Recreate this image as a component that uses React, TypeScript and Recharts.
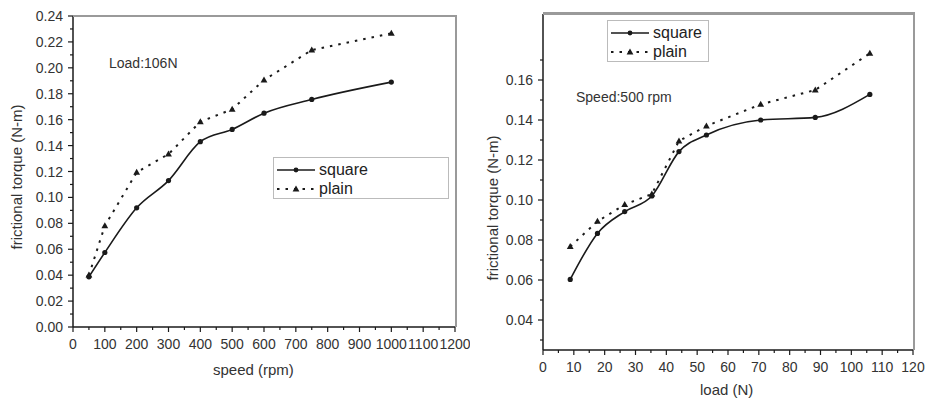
import React from "react";
import { LineChart, Line, XAxis, YAxis, Legend } from "recharts";

// left panel: torque vs speed (load 106 N)
const SPEED = [50, 100, 200, 300, 400, 500, 600, 750, 1000];
const SPEED_SQUARE = [0.0387, 0.0575, 0.092, 0.113, 0.143, 0.1525, 0.165, 0.1756, 0.189];
const SPEED_PLAIN = [0.04, 0.0781, 0.1193, 0.1334, 0.1584, 0.168, 0.1906, 0.2137, 0.2266];

// right panel: torque vs load (speed 500 rpm)
const LOAD = [8.83, 17.66, 26.5, 35.3, 44.1, 53, 70.6, 88.3, 106];
const LOAD_SQUARE = [0.0603, 0.0833, 0.0942, 0.102, 0.1242, 0.1325, 0.14, 0.1413, 0.1528];
const LOAD_PLAIN = [0.0767, 0.0893, 0.0977, 0.103, 0.1295, 0.137, 0.1478, 0.155, 0.1733];

const SPEED_TICKS = [0, 50, 100, 150, 200, 250, 300, 350, 400, 450, 500, 550, 600, 650, 700, 750, 800, 850, 900, 950, 1000, 1050, 1100, 1150, 1200];
const TORQUE_TICKS_A = [0, 0.01, 0.02, 0.03, 0.04, 0.05, 0.06, 0.07, 0.08, 0.09, 0.1, 0.11, 0.12, 0.13, 0.14, 0.15, 0.16, 0.17, 0.18, 0.19, 0.2, 0.21, 0.22, 0.23, 0.24];
const LOAD_TICKS = [0, 5, 10, 15, 20, 25, 30, 35, 40, 45, 50, 55, 60, 65, 70, 75, 80, 85, 90, 95, 100, 105, 110, 115, 120];
const TORQUE_TICKS_B = [0.03, 0.04, 0.05, 0.06, 0.07, 0.08, 0.09, 0.1, 0.11, 0.12, 0.13, 0.14, 0.15, 0.16, 0.17];

const speedData = SPEED.map((s, i) => ({ x: s, square: SPEED_SQUARE[i], plain: SPEED_PLAIN[i] }));
const loadData = LOAD.map((l, i) => ({ x: l, square: LOAD_SQUARE[i], plain: LOAD_PLAIN[i] }));

const FONT = "'Liberation Sans', Arial, sans-serif";
const INK = "#1a1a1a";
const TXT = "#333";
const FRAME = "#9a9a9a";

const isMajorX = (step: number) => (v: number) => Math.round(v) % step === 0;
const isMajorY = (v: number) => Math.round(v * 100) % 2 === 0;

function makeXTick(major: (v: number) => boolean) {
  return ({ x, y, payload }: any) => {
    const m = major(payload.value);
    return (
      <g>
        <line x1={x} x2={x} y1={y} y2={y + (m ? 5 : 3)} stroke={INK} strokeWidth={1.2} />
        {m && (
          <text x={x} y={y + 17} textAnchor="middle" dominantBaseline="central" fontSize={14} fontFamily={FONT} fill={TXT}>
            {payload.value}
          </text>
        )}
      </g>
    );
  };
}

function YTick({ x, y, payload }: any) {
  const m = isMajorY(payload.value);
  return (
    <g>
      <line x1={x} x2={x - (m ? 5 : 3)} y1={y} y2={y} stroke={INK} strokeWidth={1.2} />
      {m && (
        <text x={x - 10} y={y} textAnchor="end" dominantBaseline="central" fontSize={14} fontFamily={FONT} fill={TXT}>
          {payload.value.toFixed(2)}
        </text>
      )}
    </g>
  );
}

const circleDot = (p: any) => <circle key={`c${p.index}`} cx={p.cx} cy={p.cy} r={2.6} fill={INK} />;
const triDot = (p: any) => (
  <path key={`t${p.index}`} d={`M${p.cx},${p.cy - 3.6} L${p.cx + 3.4},${p.cy + 2.4} L${p.cx - 3.4},${p.cy + 2.4} Z`} fill={INK} />
);

function LegendBox({ w }: { w: number }) {
  return (
    <div style={{ width: w, height: 42, border: "1px solid #bbb", background: "#fff", fontFamily: FONT, fontSize: 16, color: "#222", boxSizing: "border-box", padding: "2px 0 0 3px" }}>
      <div style={{ display: "flex", alignItems: "center", height: 19 }}>
        <svg width={40} height={10}>
          <line x1={0} x2={38} y1={5} y2={5} stroke={INK} strokeWidth={1.6} />
          <circle cx={19} cy={5} r={2.4} fill={INK} />
        </svg>
        <span style={{ marginLeft: 2 }}>square</span>
      </div>
      <div style={{ display: "flex", alignItems: "center", height: 19 }}>
        <svg width={40} height={10}>
          <line x1={0} x2={38} y1={5} y2={5} stroke={INK} strokeWidth={2} strokeDasharray="2.5 6" />
          <path d="M19,1.6 L22.4,7.6 L15.6,7.6 Z" fill={INK} />
        </svg>
        <span style={{ marginLeft: 2 }}>plain</span>
      </div>
    </div>
  );
}

const abs = (left: number, top: number, extra: React.CSSProperties = {}): React.CSSProperties => ({
  position: "absolute", left, top, fontFamily: FONT, color: TXT, whiteSpace: "nowrap", ...extra,
});

// top/right frame of an Origin-style plot box
const frame = (left: number, top: number, width: number, height: number, top_w: number): React.CSSProperties => ({
  position: "absolute", left, top, width, height, boxSizing: "border-box", pointerEvents: "none",
  borderTop: `${top_w}px solid ${FRAME}`, borderRight: `2px solid ${FRAME}`,
});

export default function App() {
  return (
    <div style={{ position: "absolute", left: 0, top: 0, width: 925, height: 399, background: "#fff", overflow: "hidden" }}>
      {/* left panel */}
      <div style={{ position: "absolute", left: 0, top: 0 }}>
        <LineChart width={470} height={399} data={speedData} margin={{ top: 16, right: 15, left: 0, bottom: 0 }}>
          <XAxis dataKey="x" type="number" domain={[0, 1200]} ticks={SPEED_TICKS} interval={0} height={72}
            tickSize={0} tickMargin={0} tickLine={false} axisLine={{ stroke: INK, strokeWidth: 1.5 }} tick={makeXTick(isMajorX(100))} />
          <YAxis type="number" domain={[0, 0.24]} ticks={TORQUE_TICKS_A} interval={0} width={73}
            tickSize={0} tickMargin={0} tickLine={false} axisLine={{ stroke: INK, strokeWidth: 1.5 }} tick={YTick} />
          <Legend layout="vertical" align="center" verticalAlign="middle"
            wrapperStyle={{ left: 273, top: 157, width: 176, height: 42 }} content={() => <LegendBox w={176} />} />
          <Line type="monotone" dataKey="square" name="square" stroke={INK} strokeWidth={1.6} dot={circleDot} isAnimationActive={false} />
          <Line type="linear" dataKey="plain" name="plain" stroke={INK} strokeWidth={2} strokeDasharray="2.5 6" dot={triDot} isAnimationActive={false} />
        </LineChart>
      </div>
      <div style={frame(73, 15, 384, 312, 2)} />
      <div style={abs(109, 55, { fontSize: 14 })}>Load:106N</div>
      <div style={abs(213, 361, { fontSize: 15 })}>speed (rpm)</div>
      <div style={abs(16, 177, { fontSize: 15, transform: "translate(-50%, -50%) rotate(-90deg)" })}>frictional torque (N-m)</div>

      {/* right panel */}
      <div style={{ position: "absolute", left: 470, top: 0 }}>
        <LineChart width={455} height={399} data={loadData} margin={{ top: 14, right: 12, left: 0, bottom: 0 }}>
          <XAxis dataKey="x" type="number" domain={[0, 120]} ticks={LOAD_TICKS} interval={0} height={49}
            tickSize={0} tickMargin={0} tickLine={false} axisLine={{ stroke: INK, strokeWidth: 1.5 }} tick={makeXTick(isMajorX(10))} />
          <YAxis type="number" domain={[0.025, 0.193]} ticks={TORQUE_TICKS_B} interval={0} width={73} allowDataOverflow
            tickSize={0} tickMargin={0} tickLine={false} axisLine={{ stroke: INK, strokeWidth: 1.5 }} tick={YTick} />
          <Legend layout="vertical" align="center" verticalAlign="middle"
            wrapperStyle={{ left: 137, top: 20, width: 102, height: 42 }} content={() => <LegendBox w={102} />} />
          <Line type="monotone" dataKey="square" name="square" stroke={INK} strokeWidth={1.6} dot={circleDot} isAnimationActive={false} />
          <Line type="linear" dataKey="plain" name="plain" stroke={INK} strokeWidth={2} strokeDasharray="2.5 6" dot={triDot} isAnimationActive={false} />
        </LineChart>
      </div>
      <div style={frame(543, 12, 372, 338, 3)} />
      <div style={abs(576, 89, { fontSize: 14 })}>Speed:500 rpm</div>
      <div style={abs(700, 381, { fontSize: 15 })}>load (N)</div>
      <div style={abs(492, 208, { fontSize: 15, transform: "translate(-50%, -50%) rotate(-90deg)" })}>frictional torque (N-m)</div>
    </div>
  );
}
